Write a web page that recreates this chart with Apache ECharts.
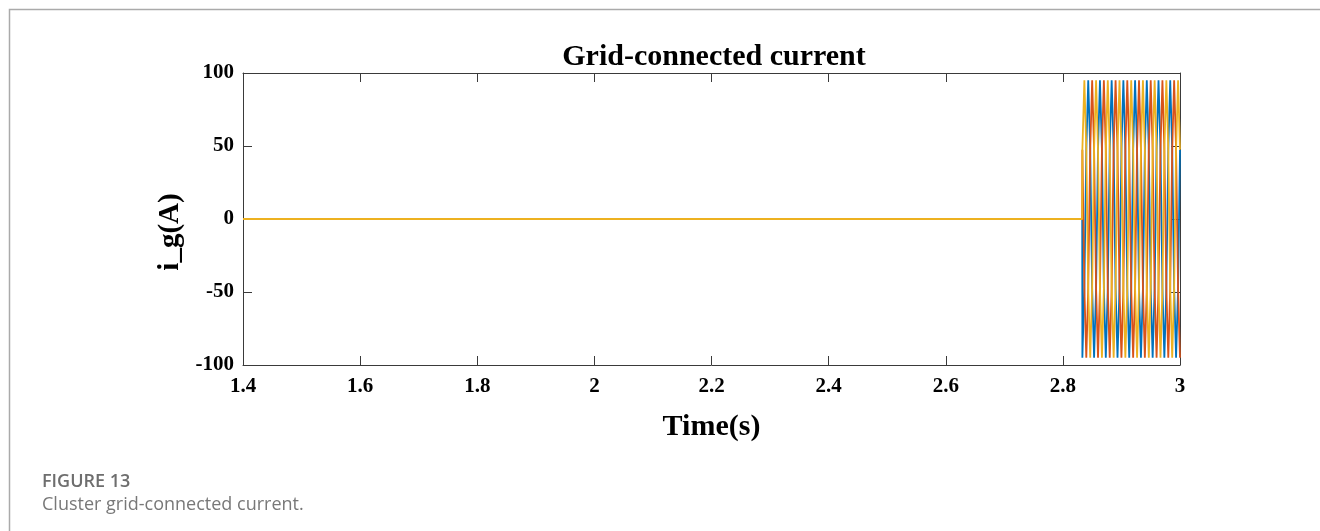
<!DOCTYPE html>
<html>
<head>
<meta charset="utf-8">
<script src="https://cdn.jsdelivr.net/npm/echarts@6/dist/echarts.min.js"></script>
<style>
  html, body { margin: 0; padding: 0; background: #fff; }
  #chart { width: 1320px; height: 531px; }
</style>
</head>
<body>
<div id="chart"></div>
<script>
// Before the inverter connects, all three phase currents sit at zero
const idleTimes = [1.4, 2.833];
const idleValues = [0, 0];

// Sample instants after connection (s)
const waveTimes = [
  2.8333, 2.8367, 2.84, 2.8433, 2.8467, 2.85, 2.8533, 2.8567, 2.86, 2.8633,
  2.8667, 2.87, 2.8733, 2.8767, 2.88, 2.8833, 2.8867, 2.89, 2.8933, 2.8967,
  2.9, 2.9033, 2.9067, 2.91, 2.9133, 2.9167, 2.92, 2.9233, 2.9267, 2.93,
  2.9333, 2.9367, 2.94, 2.9433, 2.9467, 2.95, 2.9533, 2.9567, 2.96, 2.9633,
  2.9667, 2.97, 2.9733, 2.9767, 2.98, 2.9833, 2.9867, 2.99, 2.9933, 2.9967,
  3.0
];

// Phase currents i_g (A) at those instants
const phaseA = [
  -95, -47.5, 47.5, 95, 47.5, -47.5, -95, -47.5, 47.5, 95, 47.5, -47.5,
  -95, -47.5, 47.5, 95, 47.5, -47.5, -95, -47.5, 47.5, 95, 47.5, -47.5,
  -95, -47.5, 47.5, 95, 47.5, -47.5, -95, -47.5, 47.5, 95, 47.5, -47.5,
  -95, -47.5, 47.5, 95, 47.5, -47.5, -95, -47.5, 47.5, 95, 47.5, -47.5,
  -95, -47.5, 47.5
];
const phaseB = [
  47.5, -47.5, -95, -47.5, 47.5, 95, 47.5, -47.5, -95, -47.5, 47.5, 95,
  47.5, -47.5, -95, -47.5, 47.5, 95, 47.5, -47.5, -95, -47.5, 47.5, 95,
  47.5, -47.5, -95, -47.5, 47.5, 95, 47.5, -47.5, -95, -47.5, 47.5, 95,
  47.5, -47.5, -95, -47.5, 47.5, 95, 47.5, -47.5, -95, -47.5, 47.5, 95,
  47.5, -47.5, -95
];
const phaseC = [
  47.5, 95, 47.5, -47.5, -95, -47.5, 47.5, 95, 47.5, -47.5, -95, -47.5,
  47.5, 95, 47.5, -47.5, -95, -47.5, 47.5, 95, 47.5, -47.5, -95, -47.5,
  47.5, 95, 47.5, -47.5, -95, -47.5, 47.5, 95, 47.5, -47.5, -95, -47.5,
  47.5, 95, 47.5, -47.5, -95, -47.5, 47.5, 95, 47.5, -47.5, -95, -47.5,
  47.5, 95, 47.5
];

const xTicks = { min: 1.4, max: 3, step: 0.2 };
const yTicks = { min: -100, max: 100, step: 50 };

const phaseColors = ['#0072BD', '#D95319', '#EDB120'];

function buildSeriesData(values) {
  const pts = idleTimes.map((t, i) => [t, idleValues[i]]);
  waveTimes.forEach((t, i) => pts.push([t, values[i]]));
  return pts;
}

const serif = '"Liberation Serif", "Times New Roman", serif';
const axisColor = '#3a3a3a';

const chart = echarts.init(document.getElementById('chart'), null, { renderer: 'canvas' });

const tickStyle = { inside: true, length: 9, lineStyle: { color: axisColor, width: 1 } };
const boxLine = { show: true, onZero: false, lineStyle: { color: axisColor, width: 1 } };

chart.setOption({
  animation: false,
  backgroundColor: '#fff',
  title: {
    text: 'Grid-connected current',
    left: 709, top: 37, textAlign: 'center',
    textStyle: { fontFamily: serif, fontWeight: 'bold', fontSize: 30, color: '#000' }
  },
  grid: { left: 243, top: 73, width: 937, height: 292, containLabel: false },
  xAxis: [{
    type: 'value', min: xTicks.min, max: xTicks.max, interval: xTicks.step,
    position: 'bottom',
    name: 'Time(s)', nameLocation: 'middle', nameGap: 47,
    nameTextStyle: { fontFamily: serif, fontWeight: 'bold', fontSize: 30, color: '#000' },
    axisLine: boxLine,
    axisTick: tickStyle,
    splitLine: { show: false },
    axisLabel: {
      margin: 11, fontFamily: serif, fontWeight: 'bold', fontSize: 21, color: '#000',
      formatter: v => String(+v.toFixed(1))
    }
  }, {
    type: 'value', min: xTicks.min, max: xTicks.max, interval: xTicks.step,
    position: 'top',
    axisLine: boxLine,
    axisTick: tickStyle,
    splitLine: { show: false },
    axisLabel: { show: false }
  }],
  yAxis: [{
    type: 'value', min: yTicks.min, max: yTicks.max, interval: yTicks.step,
    position: 'left',
    axisLine: boxLine,
    axisTick: tickStyle,
    splitLine: { show: false },
    axisLabel: { margin: 9, fontFamily: serif, fontWeight: 'bold', fontSize: 21, color: '#000' }
  }, {
    type: 'value', min: yTicks.min, max: yTicks.max, interval: yTicks.step,
    position: 'right',
    axisLine: boxLine,
    axisTick: tickStyle,
    splitLine: { show: false },
    axisLabel: { show: false }
  }],
  series: [phaseA, phaseB, phaseC].map((vals, i) => ({
    type: 'line',
    xAxisIndex: 0, yAxisIndex: 0,
    data: buildSeriesData(vals),
    showSymbol: false,
    symbol: 'none',
    clip: true,
    lineStyle: { color: phaseColors[i], width: 1.8 },
    z: 2 + i
  })),
  graphic: [
    {
      type: 'polyline', silent: true,
      shape: { points: [[9.5, 531], [9.5, 9.5], [1320, 9.5]] },
      style: { stroke: '#aaaaaa', lineWidth: 1.5, fill: null }
    },
    {
      // rotated y-axis title
      type: 'text', x: 171, y: 232, rotation: Math.PI / 2, silent: true,
      style: {
        text: 'i_g(A)', align: 'center', verticalAlign: 'middle', fill: '#000',
        font: 'bold 29px "Liberation Serif", "Times New Roman", serif'
      }
    },
    {
      type: 'text', x: 42, y: 482, silent: true,
      style: { text: 'FIGURE 13', verticalAlign: 'middle', fill: '#6e6e6e', font: '600 18px "Open Sans", sans-serif' }
    },
    {
      type: 'text', x: 42, y: 505, silent: true,
      style: { text: 'Cluster grid-connected current.', verticalAlign: 'middle', fill: '#787878', font: '18px "Open Sans", sans-serif' }
    }
  ]
});
</script>
</body>
</html>
